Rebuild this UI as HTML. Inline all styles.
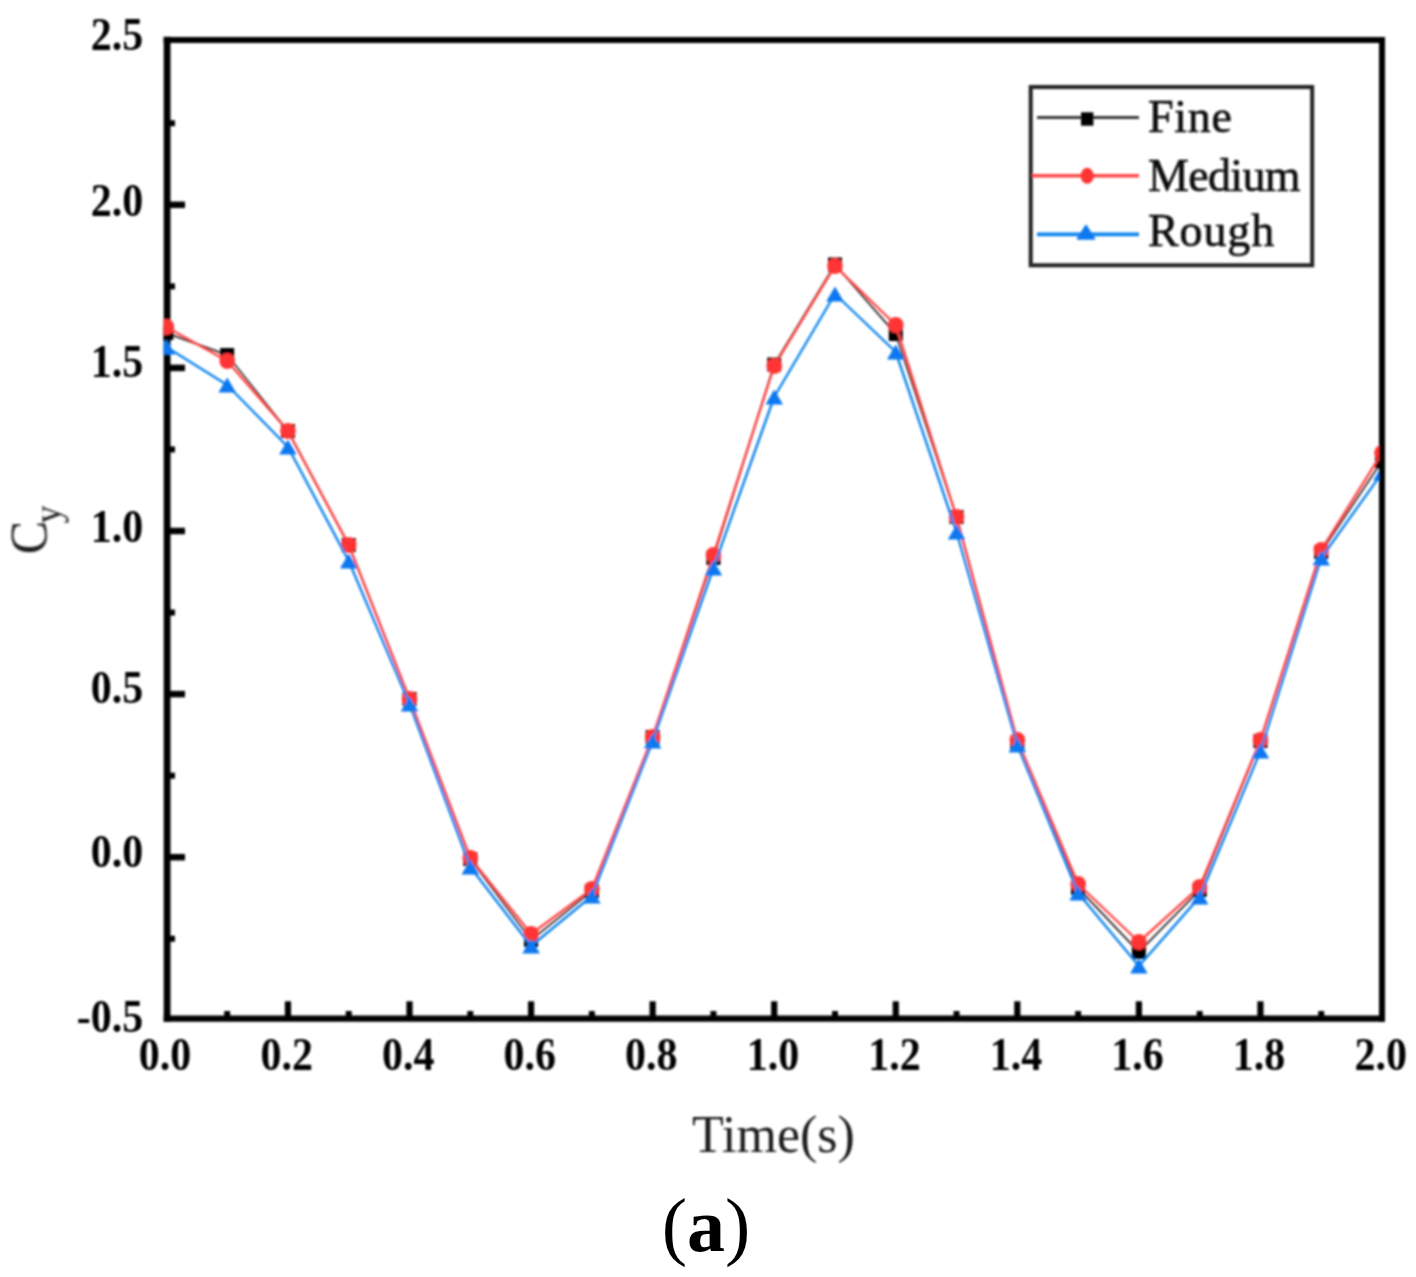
<!DOCTYPE html>
<html><head><meta charset="utf-8"><style>
html,body{margin:0;padding:0;background:#fff;}
body{width:1416px;height:1277px;overflow:hidden;}
svg{display:block;}
</style></head><body>
<svg width="1416" height="1277" viewBox="0 0 1416 1277">
<rect width="1416" height="1277" fill="#fff"/>
<defs><clipPath id="pc"><rect x="163.5" y="40" width="1215.5" height="978.5"/></clipPath></defs>
<filter id="bl" filterUnits="userSpaceOnUse" x="0" y="0" width="1416" height="1277"><feGaussianBlur stdDeviation="1.0"/></filter>
<g filter="url(#bl)">
<path d="M167.1,36.7 V1021.8" stroke="#000" stroke-width="6.8" fill="none"/>
<path d="M1382,37 V1021.8" stroke="#000" stroke-width="6" fill="none"/>
<path d="M163.7,40 H1385" stroke="#000" stroke-width="6" fill="none"/>
<path d="M163.7,1018.6 H1385" stroke="#000" stroke-width="6.4" fill="none"/>
<line x1="167.5" y1="938.75" x2="175" y2="938.75" stroke="#000" stroke-width="6"/>
<line x1="167.5" y1="857.20" x2="185" y2="857.20" stroke="#000" stroke-width="6.5"/>
<line x1="167.5" y1="775.65" x2="175" y2="775.65" stroke="#000" stroke-width="6"/>
<line x1="167.5" y1="694.10" x2="185" y2="694.10" stroke="#000" stroke-width="6.5"/>
<line x1="167.5" y1="612.55" x2="175" y2="612.55" stroke="#000" stroke-width="6"/>
<line x1="167.5" y1="531.00" x2="185" y2="531.00" stroke="#000" stroke-width="6.5"/>
<line x1="167.5" y1="449.45" x2="175" y2="449.45" stroke="#000" stroke-width="6"/>
<line x1="167.5" y1="367.90" x2="185" y2="367.90" stroke="#000" stroke-width="6.5"/>
<line x1="167.5" y1="286.35" x2="175" y2="286.35" stroke="#000" stroke-width="6"/>
<line x1="167.5" y1="204.80" x2="185" y2="204.80" stroke="#000" stroke-width="6.5"/>
<line x1="167.5" y1="123.25" x2="175" y2="123.25" stroke="#000" stroke-width="6"/>
<line x1="227.18" y1="1018.5" x2="227.18" y2="1011" stroke="#000" stroke-width="6"/>
<line x1="287.96" y1="1018.5" x2="287.96" y2="1001.3" stroke="#000" stroke-width="6.2"/>
<line x1="348.74" y1="1018.5" x2="348.74" y2="1011" stroke="#000" stroke-width="6"/>
<line x1="409.52" y1="1018.5" x2="409.52" y2="1001.3" stroke="#000" stroke-width="6.2"/>
<line x1="470.30" y1="1018.5" x2="470.30" y2="1011" stroke="#000" stroke-width="6"/>
<line x1="531.08" y1="1018.5" x2="531.08" y2="1001.3" stroke="#000" stroke-width="6.2"/>
<line x1="591.86" y1="1018.5" x2="591.86" y2="1011" stroke="#000" stroke-width="6"/>
<line x1="652.64" y1="1018.5" x2="652.64" y2="1001.3" stroke="#000" stroke-width="6.2"/>
<line x1="713.42" y1="1018.5" x2="713.42" y2="1011" stroke="#000" stroke-width="6"/>
<line x1="774.20" y1="1018.5" x2="774.20" y2="1001.3" stroke="#000" stroke-width="6.2"/>
<line x1="834.98" y1="1018.5" x2="834.98" y2="1011" stroke="#000" stroke-width="6"/>
<line x1="895.76" y1="1018.5" x2="895.76" y2="1001.3" stroke="#000" stroke-width="6.2"/>
<line x1="956.54" y1="1018.5" x2="956.54" y2="1011" stroke="#000" stroke-width="6"/>
<line x1="1017.32" y1="1018.5" x2="1017.32" y2="1001.3" stroke="#000" stroke-width="6.2"/>
<line x1="1078.10" y1="1018.5" x2="1078.10" y2="1011" stroke="#000" stroke-width="6"/>
<line x1="1138.88" y1="1018.5" x2="1138.88" y2="1001.3" stroke="#000" stroke-width="6.2"/>
<line x1="1199.66" y1="1018.5" x2="1199.66" y2="1011" stroke="#000" stroke-width="6"/>
<line x1="1260.44" y1="1018.5" x2="1260.44" y2="1001.3" stroke="#000" stroke-width="6.2"/>
<line x1="1321.22" y1="1018.5" x2="1321.22" y2="1011" stroke="#000" stroke-width="6"/>
<g clip-path="url(#pc)">
<polyline points="166.40,333.0 227.18,355.0 287.96,431.0 348.74,545.0 409.52,699.0 470.30,859.0 531.08,940.0 591.86,891.0 652.64,737.0 713.42,558.0 774.20,364.5 834.98,264.5 895.76,334.0 956.54,517.0 1017.32,744.0 1078.10,888.0 1138.88,952.0 1199.66,890.0 1260.44,741.0 1321.22,552.0 1382.00,461.0" fill="none" stroke="#3a3a3a" stroke-width="1.9" stroke-linejoin="round"/>
<rect x="159.40" y="326.00" width="14" height="14" fill="#000"/>
<rect x="220.18" y="348.00" width="14" height="14" fill="#000"/>
<rect x="280.96" y="424.00" width="14" height="14" fill="#000"/>
<rect x="341.74" y="538.00" width="14" height="14" fill="#000"/>
<rect x="402.52" y="692.00" width="14" height="14" fill="#000"/>
<rect x="463.30" y="852.00" width="14" height="14" fill="#000"/>
<rect x="524.08" y="933.00" width="14" height="14" fill="#000"/>
<rect x="584.86" y="884.00" width="14" height="14" fill="#000"/>
<rect x="645.64" y="730.00" width="14" height="14" fill="#000"/>
<rect x="706.42" y="551.00" width="14" height="14" fill="#000"/>
<rect x="767.20" y="357.50" width="14" height="14" fill="#000"/>
<rect x="827.98" y="257.50" width="14" height="14" fill="#000"/>
<rect x="888.76" y="327.00" width="14" height="14" fill="#000"/>
<rect x="949.54" y="510.00" width="14" height="14" fill="#000"/>
<rect x="1010.32" y="737.00" width="14" height="14" fill="#000"/>
<rect x="1071.10" y="881.00" width="14" height="14" fill="#000"/>
<rect x="1131.88" y="945.00" width="14" height="14" fill="#000"/>
<rect x="1192.66" y="883.00" width="14" height="14" fill="#000"/>
<rect x="1253.44" y="734.00" width="14" height="14" fill="#000"/>
<rect x="1314.22" y="545.00" width="14" height="14" fill="#000"/>
<rect x="1375.00" y="454.00" width="14" height="14" fill="#000"/>
<polyline points="166.40,327.0 227.18,361.0 287.96,431.0 348.74,545.0 409.52,699.0 470.30,858.0 531.08,934.0 591.86,889.0 652.64,737.0 713.42,555.0 774.20,366.0 834.98,266.0 895.76,325.0 956.54,517.0 1017.32,740.0 1078.10,884.0 1138.88,942.0 1199.66,887.0 1260.44,740.0 1321.22,550.0 1382.00,453.0" fill="none" stroke="#ff4646" stroke-width="2.4" stroke-linejoin="round"/>
<ellipse cx="166.40" cy="327.00" rx="7.8" ry="8.0" fill="#ff3636"/>
<ellipse cx="227.18" cy="361.00" rx="7.8" ry="8.0" fill="#ff3636"/>
<ellipse cx="287.96" cy="431.00" rx="7.8" ry="8.0" fill="#ff3636"/>
<ellipse cx="348.74" cy="545.00" rx="7.8" ry="8.0" fill="#ff3636"/>
<ellipse cx="409.52" cy="699.00" rx="7.8" ry="8.0" fill="#ff3636"/>
<ellipse cx="470.30" cy="858.00" rx="7.8" ry="8.0" fill="#ff3636"/>
<ellipse cx="531.08" cy="934.00" rx="7.8" ry="8.0" fill="#ff3636"/>
<ellipse cx="591.86" cy="889.00" rx="7.8" ry="8.0" fill="#ff3636"/>
<ellipse cx="652.64" cy="737.00" rx="7.8" ry="8.0" fill="#ff3636"/>
<ellipse cx="713.42" cy="555.00" rx="7.8" ry="8.0" fill="#ff3636"/>
<ellipse cx="774.20" cy="366.00" rx="7.8" ry="8.0" fill="#ff3636"/>
<ellipse cx="834.98" cy="266.00" rx="7.8" ry="8.0" fill="#ff3636"/>
<ellipse cx="895.76" cy="325.00" rx="7.8" ry="8.0" fill="#ff3636"/>
<ellipse cx="956.54" cy="517.00" rx="7.8" ry="8.0" fill="#ff3636"/>
<ellipse cx="1017.32" cy="740.00" rx="7.8" ry="8.0" fill="#ff3636"/>
<ellipse cx="1078.10" cy="884.00" rx="7.8" ry="8.0" fill="#ff3636"/>
<ellipse cx="1138.88" cy="942.00" rx="7.8" ry="8.0" fill="#ff3636"/>
<ellipse cx="1199.66" cy="887.00" rx="7.8" ry="8.0" fill="#ff3636"/>
<ellipse cx="1260.44" cy="740.00" rx="7.8" ry="8.0" fill="#ff3636"/>
<ellipse cx="1321.22" cy="550.00" rx="7.8" ry="8.0" fill="#ff3636"/>
<ellipse cx="1382.00" cy="453.00" rx="7.8" ry="8.0" fill="#ff3636"/>
<polyline points="166.40,347.0 227.18,385.0 287.96,447.0 348.74,561.0 409.52,704.0 470.30,867.0 531.08,946.0 591.86,896.0 652.64,741.0 713.42,568.0 774.20,397.0 834.98,294.0 895.76,352.0 956.54,532.0 1017.32,745.0 1078.10,893.0 1138.88,966.0 1199.66,897.0 1260.44,751.0 1321.22,558.0 1382.00,473.0" fill="none" stroke="#0a84ec" stroke-width="2.4" stroke-linejoin="round"/>
<polygon points="166.40,339.50 175.15,354.50 157.65,354.50" fill="#0a78f0"/>
<polygon points="227.18,377.50 235.93,392.50 218.43,392.50" fill="#0a78f0"/>
<polygon points="287.96,439.50 296.71,454.50 279.21,454.50" fill="#0a78f0"/>
<polygon points="348.74,553.50 357.49,568.50 339.99,568.50" fill="#0a78f0"/>
<polygon points="409.52,696.50 418.27,711.50 400.77,711.50" fill="#0a78f0"/>
<polygon points="470.30,859.50 479.05,874.50 461.55,874.50" fill="#0a78f0"/>
<polygon points="531.08,938.50 539.83,953.50 522.33,953.50" fill="#0a78f0"/>
<polygon points="591.86,888.50 600.61,903.50 583.11,903.50" fill="#0a78f0"/>
<polygon points="652.64,733.50 661.39,748.50 643.89,748.50" fill="#0a78f0"/>
<polygon points="713.42,560.50 722.17,575.50 704.67,575.50" fill="#0a78f0"/>
<polygon points="774.20,389.50 782.95,404.50 765.45,404.50" fill="#0a78f0"/>
<polygon points="834.98,286.50 843.73,301.50 826.23,301.50" fill="#0a78f0"/>
<polygon points="895.76,344.50 904.51,359.50 887.01,359.50" fill="#0a78f0"/>
<polygon points="956.54,524.50 965.29,539.50 947.79,539.50" fill="#0a78f0"/>
<polygon points="1017.32,737.50 1026.07,752.50 1008.57,752.50" fill="#0a78f0"/>
<polygon points="1078.10,885.50 1086.85,900.50 1069.35,900.50" fill="#0a78f0"/>
<polygon points="1138.88,958.50 1147.63,973.50 1130.13,973.50" fill="#0a78f0"/>
<polygon points="1199.66,889.50 1208.41,904.50 1190.91,904.50" fill="#0a78f0"/>
<polygon points="1260.44,743.50 1269.19,758.50 1251.69,758.50" fill="#0a78f0"/>
<polygon points="1321.22,550.50 1329.97,565.50 1312.47,565.50" fill="#0a78f0"/>
<polygon points="1382.00,465.50 1390.75,480.50 1373.25,480.50" fill="#0a78f0"/>
</g>
<text transform="translate(143.3,50.3) scale(1,1.12)" text-anchor="end" font-family="Liberation Serif" font-weight="bold" font-size="42">2.5</text>
<text transform="translate(143.3,215.5) scale(1,1.12)" text-anchor="end" font-family="Liberation Serif" font-weight="bold" font-size="42">2.0</text>
<text transform="translate(143.3,377) scale(1,1.12)" text-anchor="end" font-family="Liberation Serif" font-weight="bold" font-size="42">1.5</text>
<text transform="translate(143.3,541.5) scale(1,1.12)" text-anchor="end" font-family="Liberation Serif" font-weight="bold" font-size="42">1.0</text>
<text transform="translate(143.3,702.8) scale(1,1.12)" text-anchor="end" font-family="Liberation Serif" font-weight="bold" font-size="42">0.5</text>
<text transform="translate(143.3,867.3) scale(1,1.12)" text-anchor="end" font-family="Liberation Serif" font-weight="bold" font-size="42">0.0</text>
<text transform="translate(143.3,1032.2) scale(1,1.12)" text-anchor="end" font-family="Liberation Serif" font-weight="bold" font-size="42">-0.5</text>
<text transform="translate(165.1,1069.8) scale(1,1.12)" text-anchor="middle" font-family="Liberation Serif" font-weight="bold" font-size="42">0.0</text>
<text transform="translate(286.7,1069.8) scale(1,1.12)" text-anchor="middle" font-family="Liberation Serif" font-weight="bold" font-size="42">0.2</text>
<text transform="translate(408.2,1069.8) scale(1,1.12)" text-anchor="middle" font-family="Liberation Serif" font-weight="bold" font-size="42">0.4</text>
<text transform="translate(529.8,1069.8) scale(1,1.12)" text-anchor="middle" font-family="Liberation Serif" font-weight="bold" font-size="42">0.6</text>
<text transform="translate(651.3,1069.8) scale(1,1.12)" text-anchor="middle" font-family="Liberation Serif" font-weight="bold" font-size="42">0.8</text>
<text transform="translate(772.9,1069.8) scale(1,1.12)" text-anchor="middle" font-family="Liberation Serif" font-weight="bold" font-size="42">1.0</text>
<text transform="translate(894.5,1069.8) scale(1,1.12)" text-anchor="middle" font-family="Liberation Serif" font-weight="bold" font-size="42">1.2</text>
<text transform="translate(1016.0,1069.8) scale(1,1.12)" text-anchor="middle" font-family="Liberation Serif" font-weight="bold" font-size="42">1.4</text>
<text transform="translate(1137.6,1069.8) scale(1,1.12)" text-anchor="middle" font-family="Liberation Serif" font-weight="bold" font-size="42">1.6</text>
<text transform="translate(1259.1,1069.8) scale(1,1.12)" text-anchor="middle" font-family="Liberation Serif" font-weight="bold" font-size="42">1.8</text>
<text transform="translate(1380.7,1069.8) scale(1,1.12)" text-anchor="middle" font-family="Liberation Serif" font-weight="bold" font-size="42">2.0</text>
<text x="773.5" y="1152" text-anchor="middle" font-family="Liberation Serif" font-size="52" fill="#1a1a1a">Time(s)</text>
<g transform="translate(46.7,554.2) rotate(-90) scale(1,1.07)"><text x="0" y="0" font-family="Liberation Serif" font-size="50" fill="#1a1a1a">C<tspan font-size="36" dx="-2.7" dy="12.5">y</tspan></text></g>
<rect x="1030.7" y="87" width="281.5" height="178.3" fill="none" stroke="#222" stroke-width="4"/>
<line x1="1037" y1="117.4" x2="1139" y2="117.4" stroke="#3a3a3a" stroke-width="3"/>
<rect x="1081.0" y="112.3" width="12.4" height="13.4" fill="#000"/>
<line x1="1032" y1="175.8" x2="1139" y2="175.8" stroke="#ff4646" stroke-width="3.6"/>
<ellipse cx="1087.2" cy="175.8" rx="6.6" ry="8" fill="#ff3636"/>
<line x1="1037" y1="234.3" x2="1139" y2="234.3" stroke="#0a84ec" stroke-width="3.8"/>
<polygon points="1086,225.5 1094.5,239 1077.5,239" fill="#0a78f0" stroke="#0a78f0" stroke-width="1.5" stroke-linejoin="round"/>
<text x="1148" y="132.4" font-family="Liberation Serif" font-size="46" fill="#111" stroke="#111" stroke-width="0.7" letter-spacing="0.73">Fine</text>
<text x="1148" y="190.8" font-family="Liberation Serif" font-size="46" fill="#111" stroke="#111" stroke-width="0.7" letter-spacing="-0.66">Medium</text>
<text x="1148" y="245.8" font-family="Liberation Serif" font-size="46" fill="#111" stroke="#111" stroke-width="0.7" letter-spacing="0.88">Rough</text>
</g>
<text x="706" y="1250.6" text-anchor="middle" font-family="Liberation Serif" font-size="76">(<tspan font-weight="bold">a</tspan>)</text>
</svg>
</body></html>
